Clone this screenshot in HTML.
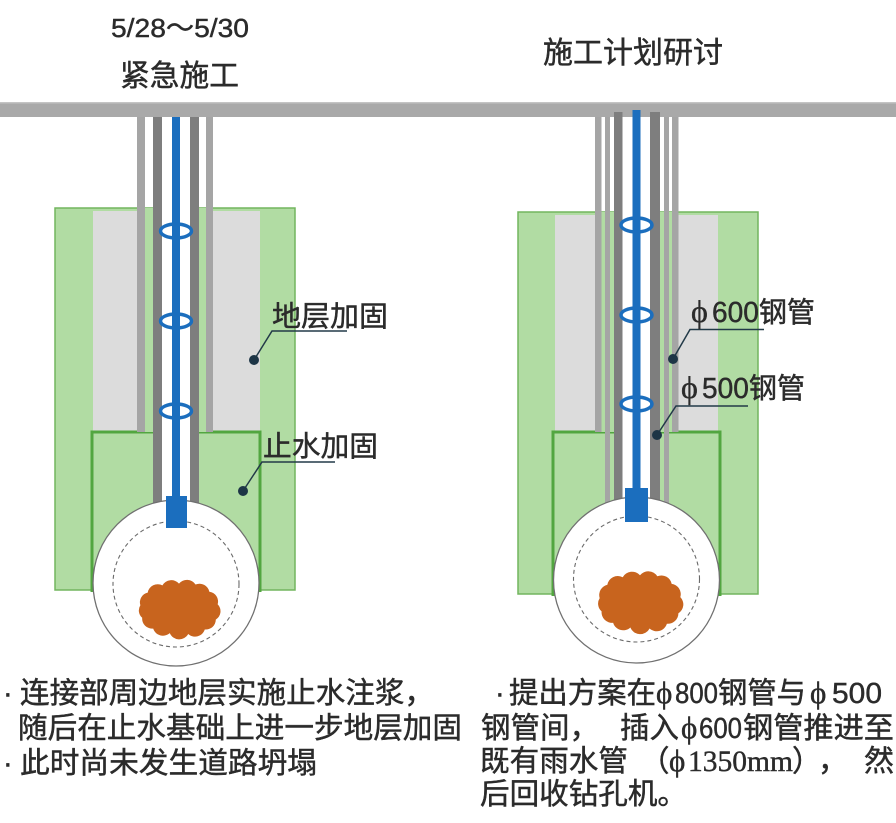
<!DOCTYPE html>
<html>
<head>
<meta charset="utf-8">
<style>
  html,body{margin:0;padding:0;background:#ffffff;}
  svg{display:block;}
  .t{font-family:"Liberation Sans","Noto Sans CJK SC",sans-serif;fill:#2b2b2b;stroke:#2b2b2b;stroke-width:0.45px;}
  .s{font-family:"Liberation Serif","DejaVu Serif","Noto Serif CJK SC",serif;fill:#2b2b2b;stroke:#2b2b2b;stroke-width:0.4px;}
</style>
</head>
<body>
<svg width="896" height="823" viewBox="0 0 896 823" xmlns="http://www.w3.org/2000/svg">
  <defs>
    <path id="blob" d="M-42,-2 A11,11 0 0 1 -34,-16 A11,11 0 0 1 -18,-24 A11,11 0 0 1 0,-26 A11,11 0 0 1 18,-25 A11,11 0 0 1 33,-17 A11,11 0 0 1 42,-3 A11,11 0 0 1 40,14 A11,11 0 0 1 28,25 A11,11 0 0 1 10,30 A11,11 0 0 1 -10,29 A11,11 0 0 1 -28,24 A11,11 0 0 1 -40,12 A11,11 0 0 1 -42,-2 Z"/>
  </defs>
  <rect x="0" y="0" width="896" height="823" fill="#ffffff"/>

  <!-- Titles -->
  <text class="t" x="111" y="37" font-size="26" textLength="138" lengthAdjust="spacingAndGlyphs">5/28～5/30</text>
  <text class="t" x="120" y="86" font-size="30" textLength="119" lengthAdjust="spacingAndGlyphs">紧急施工</text>
  <text class="t" x="543" y="63" font-size="30" textLength="180" lengthAdjust="spacingAndGlyphs">施工计划研讨</text>

  <!-- ================= LEFT DIAGRAM ================= -->
  <rect x="55" y="208" width="240" height="382" fill="#b1dca3" stroke="#72b55e" stroke-width="1.5"/>
  <rect x="93" y="211" width="167" height="221" fill="#dcdcdc"/>
  <rect x="92" y="432" width="168" height="158" fill="#b1dca3"/>
  <path d="M92 592 L92 432 L260 432 L260 592" fill="none" stroke="#52a640" stroke-width="3"/>
  <rect x="145" y="208" width="8" height="224" fill="#b1dca3"/>
  <rect x="199" y="208" width="7" height="224" fill="#b1dca3"/>
  <rect x="162" y="117" width="28" height="390" fill="#ffffff"/>
  <rect x="137" y="117" width="8" height="315" fill="#a5a5a5"/>
  <rect x="206" y="117" width="7" height="315" fill="#a5a5a5"/>
  <rect x="153" y="117" width="9" height="392" fill="#7e7e7e"/>
  <rect x="190" y="117" width="9" height="392" fill="#7e7e7e"/>
  <rect x="172" y="117" width="8" height="385" fill="#1b6ebe"/>
  <ellipse cx="176" cy="231" rx="15.5" ry="7" fill="none" stroke="#1b6ebe" stroke-width="3.5"/>
  <ellipse cx="176" cy="321" rx="15.5" ry="7" fill="none" stroke="#1b6ebe" stroke-width="3.5"/>
  <ellipse cx="176" cy="411" rx="15.5" ry="7" fill="none" stroke="#1b6ebe" stroke-width="3.5"/>
  <circle cx="176" cy="583" r="83" fill="#ffffff" stroke="#707070" stroke-width="1.3"/>
  <circle cx="176" cy="584" r="63" fill="none" stroke="#6a6a6a" stroke-width="1.1" stroke-dasharray="4 3"/>
  <use href="#blob" transform="translate(179,607) scale(0.92,0.9)" fill="#c8641e"/>
  <rect x="166" y="496" width="21" height="32" fill="#1b6ebe"/>

  <!-- left labels -->
  <polyline points="254,360 272,331 347,331" fill="none" stroke="#223a48" stroke-width="1.5"/>
  <circle cx="254" cy="360" r="5" fill="#1d3546"/>
  <text class="t" x="272" y="326" font-size="28.5" textLength="116" lengthAdjust="spacingAndGlyphs">地层加固</text>
  <polyline points="243,491 262,462 335,462" fill="none" stroke="#223a48" stroke-width="1.5"/>
  <circle cx="243" cy="491" r="5" fill="#1d3546"/>
  <text class="t" x="263" y="456" font-size="28.5" textLength="115" lengthAdjust="spacingAndGlyphs">止水加固</text>

  <!-- ================= RIGHT DIAGRAM ================= -->
  <rect x="518" y="212" width="240" height="382" fill="#b1dca3" stroke="#72b55e" stroke-width="1.5"/>
  <rect x="555" y="215" width="163" height="217" fill="#dcdcdc"/>
  <rect x="553" y="432" width="167" height="162" fill="#b1dca3"/>
  <path d="M553 596 L553 432 L720 432 L720 596" fill="none" stroke="#52a640" stroke-width="3"/>
  <rect x="601" y="212" width="13" height="220" fill="#b1dca3"/>
  <rect x="660" y="212" width="12" height="220" fill="#b1dca3"/>
  <rect x="622" y="117" width="28" height="390" fill="#ffffff"/>
  <rect x="595" y="117" width="6.5" height="315" fill="#a5a5a5"/>
  <rect x="672" y="117" width="6.5" height="315" fill="#a5a5a5"/>
  <rect x="605" y="117" width="5" height="392" fill="#a5a5a5"/>
  <rect x="664" y="117" width="5" height="392" fill="#a5a5a5"/>
  <rect x="614" y="112" width="8.5" height="397" fill="#7e7e7e"/>
  <rect x="650" y="112" width="10" height="397" fill="#7e7e7e"/>
  <rect x="632.5" y="110" width="8" height="385" fill="#1b6ebe"/>
  <ellipse cx="636.5" cy="225" rx="15.5" ry="7" fill="none" stroke="#1b6ebe" stroke-width="3.5"/>
  <ellipse cx="636.5" cy="315" rx="15.5" ry="7" fill="none" stroke="#1b6ebe" stroke-width="3.5"/>
  <ellipse cx="636.5" cy="404" rx="15.5" ry="7" fill="none" stroke="#1b6ebe" stroke-width="3.5"/>
  <circle cx="636.5" cy="580" r="83" fill="#ffffff" stroke="#707070" stroke-width="1.3"/>
  <circle cx="636.5" cy="579" r="63" fill="none" stroke="#6a6a6a" stroke-width="1.1" stroke-dasharray="4 3"/>
  <use href="#blob" transform="translate(640,600) scale(0.96,0.95)" fill="#c8641e"/>
  <rect x="625" y="488" width="23" height="34" fill="#1b6ebe"/>

  <!-- right labels -->
  <polyline points="673,359 690,329.5 764,329.5" fill="none" stroke="#223a48" stroke-width="1.5"/>
  <circle cx="673" cy="359" r="5" fill="#1d3546"/>
  <text class="s" x="691" y="322" font-size="32">ϕ</text>
  <text class="t" x="712" y="322" font-size="28.5" textLength="103" lengthAdjust="spacingAndGlyphs">600钢管</text>
  <polyline points="657,435 676,406 748,406" fill="none" stroke="#223a48" stroke-width="1.5"/>
  <circle cx="657" cy="435" r="5" fill="#1d3546"/>
  <text class="s" x="681" y="398" font-size="32">ϕ</text>
  <text class="t" x="702" y="398" font-size="28.5" textLength="103" lengthAdjust="spacingAndGlyphs">500钢管</text>

  <!-- Top ground bar -->
  <rect x="0" y="102" width="896" height="15" fill="#a9a9a9"/>
  <rect x="0" y="102" width="896" height="1.5" fill="#c4c4c4"/>
  <rect x="614" y="112" width="8.5" height="6" fill="#7e7e7e"/>
  <rect x="650" y="112" width="10" height="6" fill="#7e7e7e"/>
  <rect x="632.5" y="110" width="8" height="8" fill="#1b6ebe"/>

  <!-- ================= BOTTOM TEXT LEFT ================= -->
  <text class="t" x="3" y="703" font-size="29">·</text>
  <text class="t" x="20" y="703" font-size="29.5" textLength="414" lengthAdjust="spacingAndGlyphs">连接部周边地层实施止水注浆，</text>
  <text class="t" x="18" y="738" font-size="29.5" textLength="444" lengthAdjust="spacingAndGlyphs">随后在止水基础上进一步地层加固</text>
  <text class="t" x="3" y="773" font-size="29">·</text>
  <text class="t" x="20" y="773" font-size="29.5" textLength="297" lengthAdjust="spacingAndGlyphs">此时尚未发生道路坍塌</text>

  <!-- ================= BOTTOM TEXT RIGHT ================= -->
  <text class="t" x="495" y="703" font-size="29">·</text>
  <text class="t" x="509" y="703" font-size="29.5" textLength="147" lengthAdjust="spacingAndGlyphs">提出方案在</text>
  <text class="s" x="656" y="703" font-size="31">ϕ</text>
  <text class="t" x="675" y="703" font-size="29" textLength="43" lengthAdjust="spacingAndGlyphs">800</text>
  <text class="t" x="718" y="703" font-size="29.5" textLength="88" lengthAdjust="spacingAndGlyphs">钢管与</text>
  <text class="s" x="810" y="703" font-size="31">ϕ</text>
  <text class="t" x="832" y="703" font-size="29" textLength="50" lengthAdjust="spacingAndGlyphs">500</text>

  <text class="t" x="481" y="738" font-size="29.5" textLength="118" lengthAdjust="spacingAndGlyphs">钢管间，</text>
  <text class="t" x="620" y="738" font-size="29.5" textLength="59" lengthAdjust="spacingAndGlyphs">插入</text>
  <text class="s" x="681" y="738" font-size="31">ϕ</text>
  <text class="t" x="699" y="738" font-size="29" textLength="43" lengthAdjust="spacingAndGlyphs">600</text>
  <text class="t" x="743" y="738" font-size="29.5" textLength="151" lengthAdjust="spacingAndGlyphs">钢管推进至</text>

  <text class="t" x="480" y="771" font-size="29.5" textLength="148" lengthAdjust="spacingAndGlyphs">既有雨水管</text>
  <text class="t" x="640" y="771" font-size="29.5">（</text>
  <text class="s" x="669" y="771" font-size="31">ϕ</text>
  <text class="s" x="688" y="771" font-size="30" textLength="105" lengthAdjust="spacingAndGlyphs">1350mm</text>
  <text class="t" x="792" y="771" font-size="29.5">）</text>
  <text class="t" x="818" y="771" font-size="29.5">，</text>
  <text class="t" x="864" y="771" font-size="29.5" textLength="30" lengthAdjust="spacingAndGlyphs">然</text>

  <text class="t" x="480" y="804" font-size="29.5" textLength="207" lengthAdjust="spacingAndGlyphs">后回收钻孔机。</text>
</svg>
</body>
</html>
